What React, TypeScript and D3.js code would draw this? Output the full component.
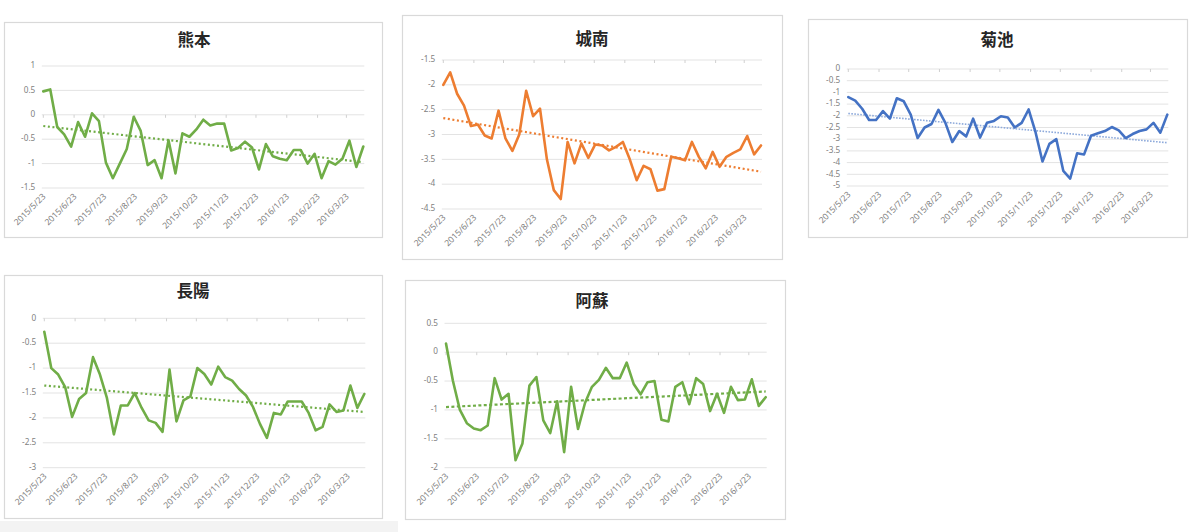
import React from "react";
import * as d3 from "d3";

// weekly observation dates (category axis)
const weeks = [
  "2015-05-23", "2015-05-30", "2015-06-06", "2015-06-13", "2015-06-20", "2015-06-27",
  "2015-07-04", "2015-07-11", "2015-07-18", "2015-07-25", "2015-08-01", "2015-08-08",
  "2015-08-15", "2015-08-22", "2015-08-29", "2015-09-05", "2015-09-12", "2015-09-19",
  "2015-09-26", "2015-10-03", "2015-10-10", "2015-10-17", "2015-10-24", "2015-10-31",
  "2015-11-07", "2015-11-14", "2015-11-21", "2015-11-28", "2015-12-05", "2015-12-12",
  "2015-12-19", "2015-12-26", "2016-01-02", "2016-01-09", "2016-01-16", "2016-01-23",
  "2016-01-30", "2016-02-06", "2016-02-13", "2016-02-20", "2016-02-27", "2016-03-05",
  "2016-03-12", "2016-03-19", "2016-03-26", "2016-04-02", "2016-04-09",
];

// monthly tick labels
const monthTicks = [
  "2015/5/23", "2015/6/23", "2015/7/23", "2015/8/23", "2015/9/23", "2015/10/23",
  "2015/11/23", "2015/12/23", "2016/1/23", "2016/2/23", "2016/3/23",
];

const kumamoto = [
  0.48, 0.52, -0.25, -0.4, -0.65, -0.15, -0.45, 0.03, -0.13, -0.98,
  -1.3, -1.0, -0.7, -0.04, -0.33, -1.03, -0.93, -1.3, -0.52, -1.2,
  -0.38, -0.45, -0.3, -0.1, -0.22, -0.18, -0.18, -0.73, -0.68, -0.55,
  -0.67, -1.12, -0.6, -0.85, -0.9, -0.93, -0.72, -0.72, -1.0, -0.8,
  -1.3, -0.95, -1.02, -0.9, -0.53, -1.07, -0.65,
];
const jonan = [
  -2.0, -1.75, -2.18, -2.42, -2.83, -2.8, -3.02, -3.08, -2.52, -3.08,
  -3.33, -3.0, -2.12, -2.63, -2.48, -3.5, -4.12, -4.3, -3.15, -3.58,
  -3.18, -3.47, -3.2, -3.22, -3.32, -3.25, -3.15, -3.5, -3.92, -3.63,
  -3.7, -4.13, -4.1, -3.45, -3.48, -3.52, -3.15, -3.45, -3.68, -3.35,
  -3.65, -3.45, -3.37, -3.3, -3.03, -3.4, -3.22,
];
const kikuchi = [
  -1.2, -1.35, -1.7, -2.18, -2.18, -1.8, -2.12, -1.25, -1.38, -1.95,
  -2.95, -2.5, -2.35, -1.75, -2.3, -3.12, -2.65, -2.88, -2.12, -2.93,
  -2.3, -2.22, -2.02, -2.07, -2.5, -2.3, -1.73, -2.7, -3.95, -3.2,
  -3.0, -4.35, -4.68, -3.6, -3.65, -2.85, -2.75, -2.65, -2.48, -2.62,
  -2.95, -2.78, -2.65, -2.58, -2.3, -2.72, -1.95,
];
const choyo = [
  -0.27, -1.0, -1.13, -1.38, -1.98, -1.62, -1.5, -0.78, -1.13, -1.6,
  -2.33, -1.75, -1.75, -1.5, -1.8, -2.05, -2.1, -2.28, -1.03, -2.07,
  -1.65, -1.57, -1.0, -1.12, -1.33, -0.97, -1.18, -1.25, -1.42, -1.55,
  -1.78, -2.12, -2.4, -1.9, -1.93, -1.67, -1.67, -1.67, -1.9, -2.25,
  -2.18, -1.73, -1.88, -1.85, -1.35, -1.8, -1.52,
];
const aso = [
  0.15, -0.5, -1.0, -1.23, -1.32, -1.35, -1.27, -0.45, -0.82, -0.72,
  -1.87, -1.58, -0.58, -0.43, -1.18, -1.4, -0.85, -1.73, -0.6, -1.33,
  -0.88, -0.6, -0.48, -0.27, -0.45, -0.45, -0.18, -0.55, -0.73, -0.52,
  -0.5, -1.17, -1.2, -0.6, -0.52, -0.9, -0.45, -0.55, -1.02, -0.72,
  -1.05, -0.6, -0.83, -0.82, -0.47, -0.93, -0.78,
];

// linear trend line, value at first and last week
const kumamotoTrend = [-0.23, -0.97];
const jonanTrend = [-2.67, -3.75];
const kikuchiTrend = [-1.9, -3.15];
const choyoTrend = [-1.35, -1.88];
const asoTrend = [-0.95, -0.68];

const GREEN = "#70ad47";
const ORANGE = "#ed7d31";
const BLUE = "#4472c4";

const parse = d3.timeParse("%Y-%m-%d");
const parseTick = d3.timeParse("%Y/%m/%d");
const dates = weeks.map(w => parse(w) as Date);

const panels = [
  { title: "熊本", values: kumamoto, trend: kumamotoTrend, color: GREEN, trendColor: GREEN, trendWidth: 2.2, dash: "2,2.6",
    box: [4, 22, 378, 215], plot: [43.3, 363.3, 66, 188], domain: [-1.5, 1], titleX: 194, titleY: 42 },
  { title: "城南", values: jonan, trend: jonanTrend, color: ORANGE, trendColor: ORANGE, trendWidth: 2.2, dash: "2,2.6",
    box: [402, 15, 380, 244], plot: [443.3, 761, 60, 209], domain: [-4.5, -1.5], titleX: 592, titleY: 41 },
  { title: "菊池", values: kikuchi, trend: kikuchiTrend, color: BLUE, trendColor: "#8eaadb", trendWidth: 1.6, dash: "1.6,1.4",
    box: [808, 19, 379, 218], plot: [848.3, 1167.3, 69, 186], domain: [-5, 0], titleX: 997, titleY: 42 },
  { title: "長陽", values: choyo, trend: choyoTrend, color: GREEN, trendColor: GREEN, trendWidth: 2.2, dash: "2,2.6",
    box: [4, 275, 378, 243], plot: [44.3, 364.3, 318.3, 467.7], domain: [-3, 0], titleX: 193, titleY: 293 },
  { title: "阿蘇", values: aso, trend: asoTrend, color: GREEN, trendColor: GREEN, trendWidth: 2.2, dash: "3,2.4",
    box: [405, 280, 380, 239], plot: [446, 765.7, 323.3, 467.7], domain: [-2, 0.5], titleX: 592, titleY: 303 },
];

type Panel = typeof panels[number];

function Chart({ p }: { p: Panel }) {
  const [left, right, top, bottom] = p.plot;
  const x = d3.scaleTime()
    .domain([dates[0], dates[dates.length - 1]])
    .range([left, right]);
  const y = d3.scaleLinear().domain(p.domain).range([bottom, top]);

  const yTicks = d3.range(p.domain[0], p.domain[1] + 0.001, 0.5).map(v => +v.toFixed(1));
  // horizontal axis crosses at 0, or at the top when every value is negative
  const crossY = p.domain[1] < 0 ? y(p.domain[1]) : y(0);

  const line = d3.line<number>()
    .x((_, i) => x(dates[i]))
    .y(d => y(d));

  const trendPath = d3.line<number>()
    .x((_, i) => x(dates[i === 0 ? 0 : dates.length - 1]))
    .y(d => y(d));

  const [bx, by, bw, bh] = p.box;

  return (
    <g>
      <rect x={bx + 0.5} y={by + 0.5} width={bw} height={bh} fill="#fff" stroke="#d9d9d9" strokeWidth={1.2} />
      <text x={p.titleX} y={p.titleY} textAnchor="middle" dominantBaseline="middle"
        fontFamily="'Noto Sans CJK JP', sans-serif" fontWeight="bold" fontSize={16.5} fill="#262626">
        {p.title}
      </text>
      {yTicks.map(v => (
        <g key={v}>
          <line x1={left - 1.5} x2={right + 1} y1={y(v)} y2={y(v)} stroke="#e3e3e3" strokeWidth={1} />
          <text x={left - 8} y={y(v)} textAnchor="end" dominantBaseline="middle"
            fontFamily="'Noto Sans', sans-serif" fontSize={8.2} fill="#7f7f7f">
            {String(v)}
          </text>
        </g>
      ))}
      {monthTicks.map(t => {
        const tx = x(parseTick(t) as Date);
        return (
          <g key={t}>
            <line x1={tx} x2={tx} y1={crossY} y2={crossY + 3} stroke="#d0d0d0" strokeWidth={1} />
            <text transform={`translate(${tx + 3},${bottom + 9}) rotate(-45)`} textAnchor="end"
              fontFamily="'Noto Sans', sans-serif" fontSize={8.6} fill="#808080">
              {t}
            </text>
          </g>
        );
      })}
      <path d={trendPath(p.trend) ?? ""} fill="none" stroke={p.trendColor}
        strokeWidth={p.trendWidth} strokeDasharray={p.dash} />
      <path d={line(p.values) ?? ""} fill="none" stroke={p.color} strokeWidth={2.6}
        strokeLinejoin="round" strokeLinecap="round" />
    </g>
  );
}

export default function App() {
  return (
    <svg width={1200} height={532} style={{ position: "absolute", left: 0, top: 0, background: "#fff" }}>
      <rect x={0} y={0} width={1200} height={532} fill="#fff" />
      <rect x={0} y={521} width={398} height={11} fill="#f3f3f3" />
      {panels.map(p => <Chart key={p.title} p={p} />)}
    </svg>
  );
}
